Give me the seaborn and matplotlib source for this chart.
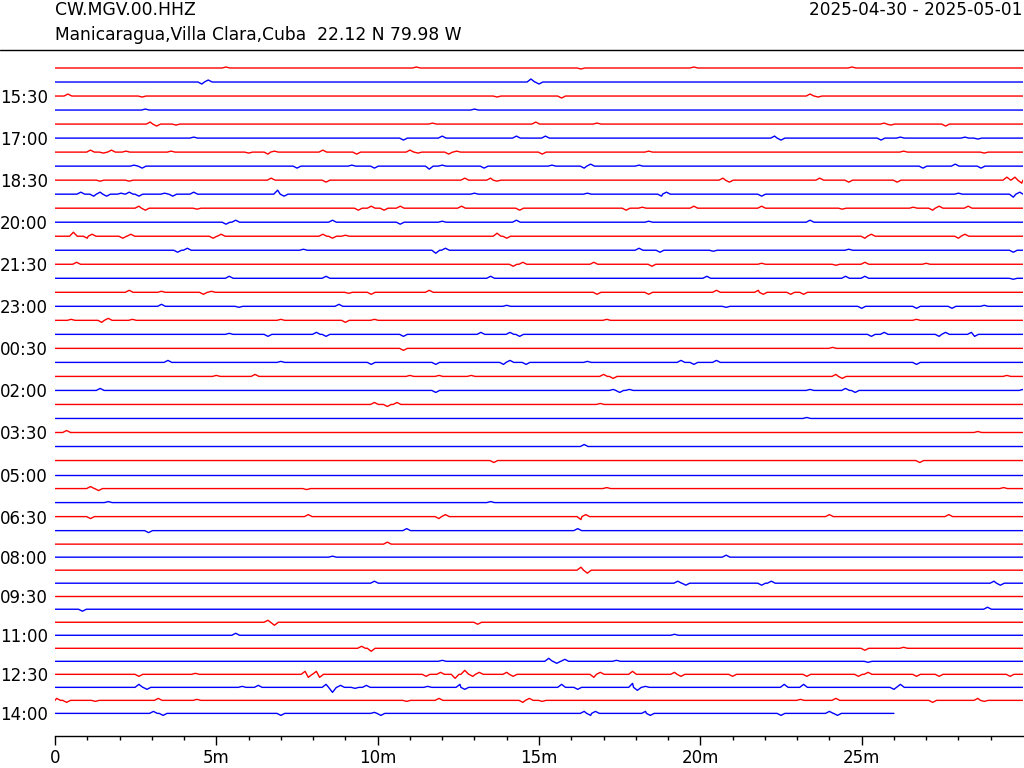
"""
Helicorder (day plot) for CW.MGV.00.HHZ, one line per 30 minutes.
"""
import numpy as np
import pandas as pd
import matplotlib
matplotlib.use('Agg')
import matplotlib.pyplot as plt
from matplotlib.lines import Line2D
from matplotlib.ticker import FixedLocator
import seaborn as sns

STATION  = 'CW.MGV.00.HHZ'
LOCATION = 'Manicaragua,Villa Clara,Cuba  22.12 N 79.98 W'
DATES    = '2025-04-30 - 2025-05-01'

RED  = '#FF0000'
BLUE = '#0000FF'

# one line per 30 min, starting 14:30; label every third line
y_tick_labels = ['15:30', '17:00', '18:30', '20:00', '21:30', '23:00', '00:30', '02:00',
                 '03:30', '05:00', '06:30', '08:00', '09:30', '11:00', '12:30', '14:00']
x_tick_labels = ['0', '5m', '10m', '15m', '20m', '25m']

# visible wiggles per line: (minute, amplitude, up positive)
trace_wiggles = [
    [(5.3, 1), (11.2, 1), (16.3, -1), (19.8, 1), (24.7, 1)],
    [(4.55, -2), (4.75, 2), (14.75, 3), (15.0, -2)],
    [(0.4, 2), (2.7, -1), (13.7, -1), (15.7, -2), (23.4, 2), (23.65, -1)],
    [(13.0, 1), (2.8, 1)],
    [(2.95, 2), (3.15, -2), (3.75, -1), (11.7, 1), (14.9, 2), (16.8, 1), (25.7, 1), (25.9, -1), (27.6, -2)],
    [(4.3, 1), (10.8, -2), (12.0, 2), (14.3, 2), (15.2, 2), (22.3, 2), (22.5, -2), (25.6, -2), (26.2, 1), (28.2, 1), (28.6, -1)],
    [(1.1, 2), (1.5, -1), (1.75, 2), (2.2, 1), (3.6, 1), (6.0, -1), (6.6, -2), (6.8, 1), (8.3, 2), (9.35, -2),
     (11.0, 2), (11.25, -1), (12.2, -2), (12.45, 1), (15.1, -2), (18.4, 1), (26.3, 1), (28.8, -1)],
    [(2.45, 1), (2.7, -2), (7.5, -2), (9.2, 1), (9.9, -2), (11.6, -3), (12.0, 1), (13.3, -2),
     (15.4, 1), (16.4, -2), (16.6, 2), (18.1, 1), (26.9, -2), (27.9, 2), (28.7, -2)],
    [(1.4, -1), (2.3, -1), (6.7, 2), (8.4, -2), (12.7, 2), (13.5, 2), (13.7, -1), (20.7, 2), (20.9, -2),
     (23.7, 2), (24.6, -2), (26.1, -2), (29.5, 3), (29.75, 3), (29.96, -3)],
    [(0.8, 2), (1.2, -2), (1.4, 2), (1.6, -2), (2.05, 1), (2.3, 2), (2.6, -2), (3.4, 1), (3.65, -2), (4.3, 2),
     (6.9, 4), (7.1, -2), (13.0, 1), (16.5, 1), (18.8, -2), (18.95, 2), (21.9, -2), (28.0, 1), (29.7, -3), (29.9, 2)],
    [(2.6, 2), (2.8, -2), (4.4, -1), (9.4, -2), (9.8, 2), (10.2, -2), (10.7, 2), (12.6, 2), (14.4, -2),
     (17.7, -2), (18.2, 1), (19.8, 2), (21.9, 2), (24.4, -1), (26.6, 1), (27.2, -2), (27.4, 2), (28.3, 2)],
    [(5.3, -2), (5.6, 2), (8.6, 2), (10.7, -2), (12.0, 1), (14.3, 2), (18.4, 1), (23.4, 2)],
    [(0.57, 4), (1.0, -2), (1.15, 2), (2.1, -2), (2.35, 2), (4.9, -2), (5.15, 2), (8.3, 2), (8.6, -2),
     (9.0, 1), (13.7, 3), (14.0, -2), (25.1, -2), (25.3, 2), (28.0, -2), (28.2, 2)],
    [(3.8, -2), (4.1, 2), (7.7, 1), (11.8, -3), (12.1, 2), (18.1, 2), (18.75, -2), (20.4, -1), (24.6, 1), (29.7, -2)],
    [(0.67, 2), (14.2, -2), (14.5, 2), (16.7, 2), (18.5, -2), (21.9, 1), (24.2, -1), (25.1, 2), (27.0, 1)],
    [(5.4, 2), (8.4, 2), (13.5, 2), (20.2, 2), (24.5, 2), (25.1, 2), (29.7, -1)],
    [(2.3, 2), (3.3, 1), (4.6, -2), (4.85, 1), (9.1, -1), (9.8, -2), (11.6, 2), (16.8, -2), (18.4, -2),
     (20.5, 2), (21.8, 2), (21.95, -2), (22.8, -2), (23.2, -2)],
    [(3.3, 2), (5.7, -1), (8.8, 2), (14.0, 1), (20.8, -1), (25.0, -2), (26.7, -2), (27.8, -2), (28.8, 1)],
    [(0.5, 1), (1.45, -2), (1.65, 2), (2.4, 1), (7.0, 1), (9.0, -2), (9.9, 1), (17.1, 1), (26.7, 1)],
    [(5.4, 1), (6.6, -2), (8.1, 2), (8.4, -2), (10.8, -2), (13.2, 2), (14.1, 2), (14.4, -2),
     (25.3, -2), (25.7, 2), (27.4, -2), (27.6, 2), (28.4, 2), (28.5, -2)],
    [(10.8, -2), (24.1, 1)],
    [(3.5, 2), (7.0, 1), (9.8, -2), (11.8, -2), (13.9, -2), (14.1, 2), (14.6, -2), (16.5, 1),
     (19.4, 2), (19.8, -2), (20.5, 2), (26.7, -2)],
    [(5.0, 1), (6.2, 2), (11.0, 1), (11.9, 1), (12.9, 1), (17.0, 2), (17.3, -2), (24.2, 2), (24.4, -2), (29.5, 1)],
    [(1.4, 2), (11.8, -2), (17.3, 1), (17.5, -2), (17.8, 1), (23.4, 1), (24.5, 2), (24.8, -2), (30.0, 1)],
    [(9.9, 2), (10.3, -2), (10.6, 2), (16.9, 1)],
    [(23.3, 1)],
    [(0.36, 2), (28.6, 1)],
    [(16.4, 2)],
    [(13.6, -2), (26.8, -2)],
    [],
    [(1.1, 2), (1.35, -2), (7.8, -1), (17.1, 1), (29.4, 1)],
    [(1.65, 1), (13.5, 1)],
    [(1.1, -2), (7.85, 2), (11.9, -2), (12.1, 2), (16.3, -3), (16.45, 2), (24.0, 2), (27.7, 2)],
    [(2.9, -2), (10.9, 2), (16.2, 2)],
    [(10.3, 2)],
    [(8.6, 1), (20.8, 2)],
    [(16.3, 3), (16.5, -3)],
    [(9.9, 2), (19.3, 2), (19.55, -2), (21.9, -2), (22.2, 2), (29.1, 2), (29.3, -2)],
    [],
    [(0.85, -2), (28.9, 2)],
    [(6.6, 2), (6.8, -3), (13.1, -2)],
    [(5.6, 2), (19.2, 1)],
    [(9.5, 2), (9.8, -3), (25.1, -2), (26.3, 1)],
    [(12.0, 1), (15.3, 3), (15.55, -2), (15.8, 2), (17.4, 1), (25.2, -1)],
    [(2.6, -2), (4.35, 1), (7.75, 3), (7.85, -3), (8.1, 3), (8.2, -3), (11.5, -2), (11.95, 2), (12.4, -4),
     (12.7, 4), (12.95, -2), (13.15, 2), (14.0, 2), (14.2, -2), (16.7, -3), (16.9, 2), (17.9, 3),
     (19.2, 2), (19.4, -2), (21.0, -2), (23.3, -2), (24.9, -2), (25.2, 2), (26.7, -2), (27.4, -2), (29.6, -2)],
    [(2.6, 3), (2.85, -2), (5.8, 1), (6.3, 2), (8.4, 3), (8.6, -5), (8.85, 2), (9.3, -1), (9.65, 2),
     (11.55, 1), (12.55, 3), (12.7, -2), (15.7, 3), (16.2, -2), (17.9, 4), (18.05, -3), (18.3, 1),
     (22.6, 3), (23.2, 3), (26.0, -2), (26.2, 3)],
    [(0.05, 2), (0.36, -2), (1.25, -1), (3.2, 2), (4.4, 1), (10.9, -1), (11.9, 2), (14.5, -2), (14.7, 2),
     (15.1, -1), (23.1, 1), (24.2, 2), (27.2, -2), (28.6, 2), (28.8, -1)],
    [(3.05, 2), (3.35, -2), (7.0, -2), (9.9, 1), (10.1, -2), (16.4, 2), (16.6, -2), (16.75, 2),
     (18.3, 2), (18.45, -2), (22.5, -2), (24.0, 2), (24.25, -2)],
]

# minute at which each line stops (last line is still recording)
trace_end = [30.0] * 47 + [26.0]

# slow drift of the line mean over the last hours of the day
level_drift = [0.0] * 34 + [0.5, 1.5, 2.5, 3.5, 4.5, 5.5, 6.5, 7.5, 8.5, 9.5, 10.5, 11.5, 12.5, 13.5]

TRACE_GAP = 14.02   # vertical offset between lines
HALF_W    = 0.12    # half width of one wiggle, minutes


def build_frame():
    rows = []
    for i, wig in enumerate(trace_wiggles):
        base = -TRACE_GAP * i + level_drift[i]
        end = trace_end[i]
        wig = sorted(w for w in wig if w[0] <= end)
        pts = [(0.0, 0.0)]
        for k, (t, a) in enumerate(wig):
            prev_t = pts[-1][0]
            if t - HALF_W > prev_t:
                pts.append((t - HALF_W, 0.0))
            pts.append((t, a))
            nxt = wig[k + 1][0] if k + 1 < len(wig) else end
            if nxt - t > 2 * HALF_W:
                pts.append((min(t + HALF_W, end), 0.0))
        if pts[-1][0] < end:
            pts.append((end, 0.0))
        for t, a in pts:
            rows.append({'trace': i, 'minute': t, 'value': base + a})
    return pd.DataFrame(rows)


sns.set_style('white', {
    'axes.edgecolor': 'black',
    'text.color': 'black',
    'xtick.color': 'black',
    'ytick.color': 'black',
    'xtick.bottom': True,
})
plt.rcParams['font.family'] = ['DejaVu Sans']

df = build_frame()
palette = [RED if i % 2 == 0 else BLUE for i in range(len(trace_wiggles))]

fig = plt.figure(figsize=(10.24, 7.68), dpi=100, facecolor='white')
ax = fig.add_axes([55 / 1024, 1 - 736 / 768, 968 / 1024, 686 / 768])

sns.lineplot(data=df, x='minute', y='value', hue='trace', palette=palette,
             estimator=None, sort=False, legend=False, linewidth=1.0, ax=ax)

ax.set_xlim(0, 30)
ax.set_ylim(-TRACE_GAP * 47.65, 18)
ax.set_xlabel('')
ax.set_ylabel('')

ax.set_xticks(range(0, 30, 5))
ax.set_xticklabels(x_tick_labels, fontsize=12)
ax.xaxis.set_minor_locator(FixedLocator([m for m in range(1, 30) if m % 5]))
ax.tick_params(axis='x', which='major', length=6.5, width=1, pad=3)
ax.tick_params(axis='x', which='minor', length=3, width=1)

tick_idx = list(range(2, 48, 3))
ax.set_yticks([-TRACE_GAP * i + level_drift[i] for i in tick_idx])
ax.set_yticklabels(y_tick_labels, fontsize=12)
ax.tick_params(axis='y', length=0, pad=5)

for side in ('top', 'right', 'left'):
    ax.spines[side].set_visible(False)
ax.spines['bottom'].set_linewidth(1)

fig.text(55 / 1024, 1 - 10 / 768, STATION, ha='left', va='center', fontsize=12.4)
fig.text(55 / 1024, 1 - 35 / 768, LOCATION, ha='left', va='center', fontsize=12.3)
fig.text(1022 / 1024, 1 - 10 / 768, DATES, ha='right', va='center', fontsize=12.2)
fig.add_artist(Line2D([0, 1], [1 - 50 / 768, 1 - 50 / 768], transform=fig.transFigure,
                      color='black', linewidth=1))

fig.savefig('out.png', dpi=100, facecolor='white')
